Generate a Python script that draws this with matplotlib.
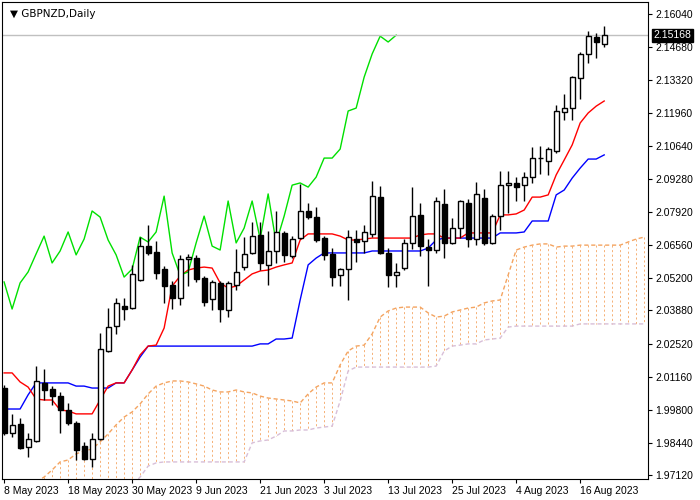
import numpy as np
import matplotlib
matplotlib.use('Agg')
import matplotlib.pyplot as plt
import matplotlib.transforms as mtransforms

plt.rcParams['font.family'] = ['Liberation Sans', 'DejaVu Sans']

# GBPNZD daily candles, 8 May 2023 .. 18 Aug 2023
opens = [2.0070, 1.9886, 1.9923, 1.9828, 1.9853, 2.0091, 2.0066, 2.0037, 1.9980, 1.9927,
         1.9832, 1.9779, 1.9861, 2.0222, 2.0324, 2.0406, 2.0398, 2.0513, 2.0652, 2.0628,
         2.0558, 2.0493, 2.0439, 2.0599, 2.0603, 2.0521, 2.0435, 2.0501, 2.0390, 2.0493,
         2.0566, 2.0624, 2.0697, 2.0575, 2.0632, 2.0706, 2.0611, 2.0685, 2.0796, 2.0771,
         2.0685, 2.0620, 2.0533, 2.0558, 2.0681, 2.0673, 2.0702, 2.0853, 2.0624, 2.0533,
         2.0562, 2.0665, 2.0779, 2.0648, 2.0636, 2.0825, 2.0665, 2.0726, 2.0829, 2.0681,
         2.0849, 2.0665, 2.0775, 2.0902, 2.0911, 2.0902, 2.0935, 2.1013, 2.1001, 2.1042,
         2.1202, 2.1218, 2.1341, 2.1440, 2.1509, 2.1481]
highs = [2.0083, 1.9964, 1.9947, 1.9886, 2.0160, 2.0148, 2.0078, 2.0054, 2.0009, 1.9935,
         1.9849, 1.9886, 2.0296, 2.0398, 2.0439, 2.0439, 2.0575, 2.0689, 2.0739, 2.0673,
         2.0570, 2.0509, 2.0616, 2.0620, 2.0616, 2.0529, 2.0513, 2.0509, 2.0509, 2.0640,
         2.0689, 2.0751, 2.0751, 2.0714, 2.0796, 2.0714, 2.0693, 2.0907, 2.0829, 2.0812,
         2.0693, 2.0644, 2.0562, 2.0718, 2.0718, 2.0739, 2.0919, 2.0898, 2.0644, 2.0583,
         2.0681, 2.0894, 2.0829, 2.0681, 2.0853, 2.0886, 2.0767, 2.0841, 2.0845, 2.0915,
         2.0886, 2.0784, 2.0960, 2.0960, 2.0935, 2.0956, 2.1058, 2.1062, 2.1058, 2.1231,
         2.1276, 2.1349, 2.1448, 2.1534, 2.1526, 2.1554]
lows = [1.9878, 1.9869, 1.9820, 1.9787, 1.9849, 2.0021, 2.0001, 1.9886, 1.9919, 1.9775,
        1.9775, 1.9746, 1.9857, 2.0218, 2.0292, 2.0349, 2.0394, 2.0509, 2.0616, 2.0517,
        2.0419, 2.0394, 2.0411, 2.0488, 2.0505, 2.0406, 2.0390, 2.0341, 2.0361, 2.0472,
        2.0554, 2.0620, 2.0554, 2.0493, 2.0583, 2.0587, 2.0603, 2.0681, 2.0763, 2.0669,
        2.0595, 2.0488, 2.0488, 2.0431, 2.0587, 2.0624, 2.0689, 2.0620, 2.0484, 2.0484,
        2.0554, 2.0640, 2.0611, 2.0488, 2.0624, 2.0603, 2.0661, 2.0685, 2.0648, 2.0656,
        2.0656, 2.0661, 2.0718, 2.0788, 2.0837, 2.0837, 2.0911, 2.0948, 2.0943, 2.1034,
        2.1169, 2.1169, 2.1255, 2.1403, 2.1423, 2.1468]
closes = [1.9886, 1.9919, 1.9824, 1.9861, 2.0099, 2.0062, 2.0037, 1.9980, 1.9927, 1.9816,
          1.9779, 1.9861, 2.0230, 2.0320, 2.0419, 2.0394, 2.0538, 2.0652, 2.0624, 2.0542,
          2.0488, 2.0439, 2.0599, 2.0607, 2.0517, 2.0423, 2.0505, 2.0394, 2.0501, 2.0546,
          2.0620, 2.0693, 2.0583, 2.0632, 2.0710, 2.0616, 2.0681, 2.0796, 2.0771, 2.0677,
          2.0616, 2.0525, 2.0558, 2.0689, 2.0669, 2.0710, 2.0857, 2.0624, 2.0533, 2.0546,
          2.0665, 2.0775, 2.0652, 2.0636, 2.0837, 2.0665, 2.0726, 2.0837, 2.0681, 2.0866,
          2.0665, 2.0775, 2.0902, 2.0911, 2.0894, 2.0935, 2.1013, 2.1013, 2.1050, 2.1206,
          2.1218, 2.1345, 2.1440, 2.1513, 2.1489, 2.1517]

# Ichimoku lines
tenkan = [2.0132, 2.0132, 2.0095, 2.0074, 2.0025, 2.0021, 2.0021, 1.9980, 1.9976, 1.9964,
          1.9964, 1.9964, 2.0021, 2.0078, 2.0091, 2.0091, 2.0144, 2.0206, 2.0242, 2.0246,
          2.0316, 2.0488, 2.0529, 2.0554, 2.0562, 2.0566, 2.0562, 2.0501, 2.0480, 2.0488,
          2.0513, 2.0538, 2.0550, 2.0554, 2.0566, 2.0575, 2.0583, 2.0677, 2.0702, 2.0702,
          2.0702, 2.0702, 2.0693, 2.0677, 2.0677, 2.0681, 2.0685, 2.0685, 2.0685, 2.0685,
          2.0685, 2.0685, 2.0698, 2.0702, 2.0702, 2.0685, 2.0685, 2.0685, 2.0706, 2.0706,
          2.0706, 2.0706, 2.0780, 2.0780, 2.0784, 2.0800, 2.0853, 2.0853, 2.0862, 2.0944,
          2.1005, 2.1067, 2.1157, 2.1198, 2.1226, 2.1247]
kijun = ([1.9984] * 3 + [2.0042] + [2.0091] * 5 + [2.0078] * 2 + [2.0070] * 3
         + [2.0091] * 2 + [2.0144, 2.0197] + [2.0242] * 14 + [2.0251] * 2 + [2.0271] * 2
         + [2.0275, 2.0431, 2.0575, 2.0603] + [2.0624] * 6 + [2.0632] * 7 + [2.0644, 2.0677]
         + [2.0685] * 7 + [2.0706] * 3 + [2.0710] + [2.0755] * 3
         + [2.0862, 2.0882, 2.0931, 2.0972, 2.1009, 2.1009, 2.1026])
span_a = [1.9632, 1.9644, 1.9660, 1.9673, 1.9685, 1.9705, 1.9734, 1.9767, 1.9775, 1.9800,
          1.9812, 1.9820, 1.9849, 1.9882, 1.9919, 1.9951, 1.9972, 2.0005, 2.0046, 2.0078,
          2.0091, 2.0099, 2.0099, 2.0095, 2.0087, 2.0078, 2.0062, 2.0054, 2.0054, 2.0062,
          2.0054, 2.0050, 2.0037, 2.0029, 2.0025, 2.0021, 2.0017, 2.0009, 2.0046, 2.0074,
          2.0091, 2.0091, 2.0165, 2.0222, 2.0242, 2.0246, 2.0292, 2.0361, 2.0386, 2.0398,
          2.0402, 2.0402, 2.0402, 2.0378, 2.0361, 2.0365, 2.0382, 2.0390, 2.0398, 2.0402,
          2.0419, 2.0427, 2.0431, 2.0534, 2.0636, 2.0648, 2.0656, 2.0661, 2.0661, 2.0648,
          2.0652, 2.0652, 2.0656, 2.0656, 2.0656, 2.0656, 2.0656, 2.0656, 2.0669, 2.0681,
          2.0689]
span_b = ([1.9611] * 16 + [1.9673, 1.9705, 1.9750, 1.9763] + [1.9767] * 11
          + [1.9845, 1.9853, 1.9857, 1.9873, 1.9894, 1.9894, 1.9898, 1.9898, 1.9906,
             1.9910, 1.9914, 2.0017, 2.0140] + [2.0156] * 10
          + [2.0160, 2.0222, 2.0242, 2.0246, 2.0251, 2.0251, 2.0267, 2.0271, 2.0275, 2.0320]
          + [2.0324] * 8 + [2.0333] * 9)

date_labels = ['8 May 2023', '18 May 2023', '30 May 2023', '9 Jun 2023', '21 Jun 2023',
               '3 Jul 2023', '13 Jul 2023', '25 Jul 2023', '4 Aug 2023', '16 Aug 2023']
date_idx = [0, 8, 16, 24, 32, 40, 48, 56, 64, 72]
price_ticks = [2.16040, 2.14680, 2.13320, 2.11960, 2.10640, 2.09280, 2.07920, 2.06560,
               2.05200, 2.03880, 2.02520, 2.01160, 1.99800, 1.98440, 1.97120]
last_price = 2.15168

fig = plt.figure(figsize=(7, 5), dpi=100)
ax = fig.add_axes([0.003, 0.042, 0.923, 0.954])

# cloud
xa = np.arange(len(span_a))
xb = np.arange(len(span_b))
n = min(len(span_a), len(span_b))
ax.vlines(np.arange(n), span_a[:n], span_b[:n], colors='#f4a460', linestyles=(0, (2.5, 3)), lw=0.6)
ax.plot(xa, span_a, color='#f4a460', ls=(0, (3, 2)), lw=1)
ax.plot(xb, span_b, color='#d8bfd8', ls=(0, (3, 2)), lw=1)

ax.plot(np.arange(len(kijun)), kijun, color='#0000ff', lw=1)
ax.plot(np.arange(len(tenkan)), tenkan, color='#ff0000', lw=1)
ax.plot(np.arange(len(closes) - 26), closes[26:], color='#00e000', lw=1)

ax.axhline(last_price, color='#c0c0c0', lw=1)

# candles
for i, (o, h, l, c) in enumerate(zip(opens, highs, lows, closes)):
    ax.vlines(i, l, h, color='black', lw=1, zorder=3)
    face = 'white' if c >= o else 'black'
    ax.bar(i, max(abs(c - o), 0.0002), bottom=min(o, c), width=0.62,
           color=face, edgecolor='black', lw=1, zorder=4)

ax.set_xlim(-0.25, 80.5)
ax.set_ylim(1.9697, 2.1653)
ax.yaxis.tick_right()
ax.set_yticks(price_ticks)
ax.set_yticklabels([f'{p:.5f}' for p in price_ticks])
ax.set_xticks(date_idx)
ax.set_xticklabels(date_labels, ha='left')
ax.tick_params(labelsize=7.5, length=3, pad=2)

trans = mtransforms.blended_transform_factory(ax.transAxes, ax.transData)
ax.text(1.008, last_price, f'{last_price:.5f}', transform=trans, fontsize=7.5, color='white',
        va='center', ha='left', bbox=dict(facecolor='black', edgecolor='black', pad=1.2))
ax.text(0.012, 0.985, '\u25bc GBPNZD,Daily', transform=ax.transAxes, fontsize=7.5, va='top',
        family=['DejaVu Sans'])

fig.savefig('out.png', dpi=100)
